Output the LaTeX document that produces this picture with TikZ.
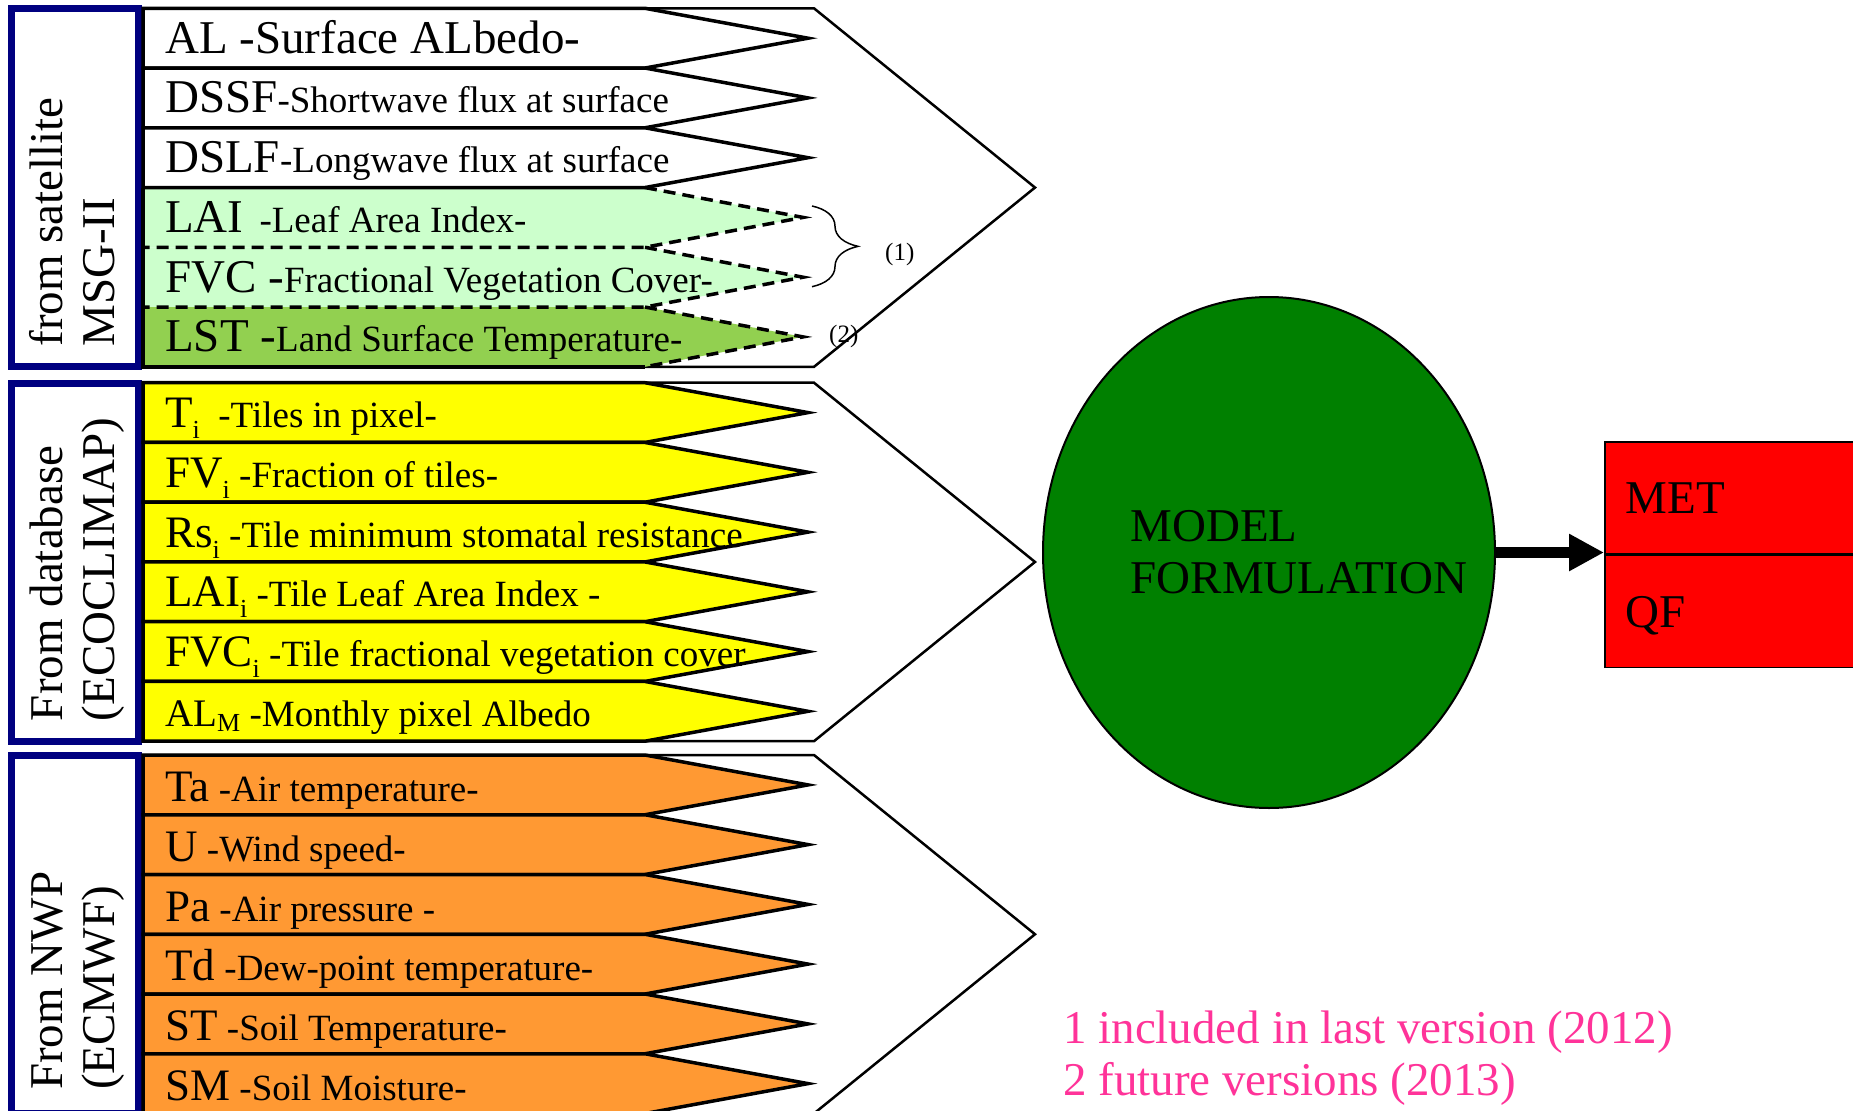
\documentclass[tikz,border=0pt]{standalone}
\usepackage{fontspec}
\setmainfont{Liberation Serif}
\usepackage{xcolor}
\usepackage{tikz}
\usetikzlibrary{arrows.meta, decorations.pathreplacing, shapes.geometric, positioning}

\definecolor{navyframe}{RGB}{0,0,128}
\definecolor{vegpale}{RGB}{204,255,204}
\definecolor{lstgreen}{RGB}{146,208,80}
\definecolor{dbyellow}{RGB}{255,255,0}
\definecolor{nwporange}{RGB}{255,153,51}
\definecolor{modelgreen}{RGB}{0,128,0}
\definecolor{notepink}{RGB}{255,51,153}

\newcommand{\bigfnt}{\fontsize{47}{52}\selectfont}
\newcommand{\midfnt}{\fontsize{45}{50}\selectfont}
\newcommand{\smlfnt}{\fontsize{37}{42}\selectfont}
\newcommand{\lowsub}[2][11pt]{\raisebox{-#1}{\fontsize{26}{28}\selectfont #2}}

\begin{document}
\begin{tikzpicture}[
    x=1pt, y=-1pt,
    every node/.style={inner sep=0pt},
    srcbox/.style  ={draw=navyframe, line width=7pt, fill=white},
    srclbl/.style  ={rotate=90, anchor=base west,
                     font=\fontsize{47}{52}\selectfont},
    chevron/.style ={draw=black, line width=2.5pt, fill=white},
    arrowrow/.style={draw=black, line width=3.5pt},
    dashedge/.style={draw=black, line width=3.5pt,
                     dash pattern=on 12pt off 7pt},
    lbl/.style     ={anchor=base west},
    brace/.style   ={decorate, decoration={brace, amplitude=46pt},
                     line width=1.5pt},
    tag/.style     ={anchor=base west, font=\fontsize{25}{28}\selectfont},
    model/.style   ={ellipse, draw=black, line width=2pt, fill=modelgreen,
                     minimum width=452pt, minimum height=511pt},
    modellbl/.style={align=left, font=\fontsize{47}{52}\selectfont},
    outbox/.style  ={rectangle, draw=black, line width=1.5pt, fill=red,
                     minimum width=270pt, minimum height=112pt,
                     text width=228pt, inner xsep=21pt, align=left,
                     text height=32pt, text depth=0pt,
                     font=\fontsize{47}{52}\selectfont},
    fatarrow/.style={line width=10.5pt, -{Triangle[length=35pt,width=35pt]}},
    note/.style    ={anchor=base west, text=notepink,
                     font=\fontsize{47}{52}\selectfont},
  ]

  \path[use as bounding box, fill=white] (0,0) rectangle (1853,1111);

  %% --- common geometry --------------------------------------------------
  \def\xL{143}    % left edge of the input arrows
  \def\xB{645}    % end of the arrow body
  \def\xT{808}    % arrow tip (miter join reaches a bit further)
  \def\xD{803}    % tip of the dashed arrows
  \def\xC{1035}   % tip of the group chevron

  %% =====================================================================
  %% Group 1: from satellite
  %% =====================================================================
  \begin{scope}[yshift=-8.3pt]
    % source box with rotated caption
    \draw[srcbox] (11.7,0.5) rectangle (138.3,358.5);
    \node[srclbl] (sat1) at (62,338.5) {from satellite};
    \node[srclbl] (sat2) at (114,338.5) {MSG-II};
    % chevron behind the arrows
    \draw[chevron] (\xL,0) -- (814,0) -- (\xC,179.25) -- (814,358.5)
          -- (\xL,358.5) -- cycle;
    % fills of the vegetation / LST arrows
    \fill[vegpale] (\xL,179.25) -- (\xB,179.25) -- (\xD,209.1) -- (\xB,239)
          -- (\xL,239) -- cycle;
    \fill[vegpale] (\xL,239) -- (\xB,239) -- (\xD,268.9) -- (\xB,298.75)
          -- (\xL,298.75) -- cycle;
    \fill[lstgreen] (\xL,298.75) -- (\xB,298.75) -- (\xD,328.6) -- (\xB,358.5)
          -- (\xL,358.5) -- cycle;
    % solid arrows
    \draw[arrowrow, fill=white] (\xL,0) -- (\xB,0) -- (\xT,29.9) -- (\xB,59.75)
          -- (\xL,59.75) -- cycle;
    \draw[arrowrow, fill=white] (\xL,59.75) -- (\xB,59.75) -- (\xT,89.6)
          -- (\xB,119.5) -- (\xL,119.5) -- cycle;
    \draw[arrowrow, fill=white] (\xL,119.5) -- (\xB,119.5) -- (\xT,149.4)
          -- (\xB,179.25) -- (\xL,179.25) -- cycle;
    % dashed outlines (not yet / newly included products)
    \draw[dashedge] (\xB,179.25) -- (\xD,209.1) -- (\xB,239) -- (\xL,239);
    \draw[dashedge] (\xB,239) -- (\xD,268.9) -- (\xB,298.75) -- (\xL,298.75);
    \draw[dashedge] (\xB,298.75) -- (\xD,328.6) -- (\xB,358.5);
    \draw[arrowrow] (\xL,179.25) -- (\xL,358.5) -- (\xB,358.5);
    % labels
    \node[lbl] (al)   at (165,44.9)  {\bigfnt AL -Surface ALbedo-};
    \node[lbl] (dssf) at (165,104.6) {\bigfnt DSSF\smlfnt -Shortwave flux at surface};
    \node[lbl] (dslf) at (165,164.4) {\bigfnt DSLF\smlfnt -Longwave flux at surface};
    \node[lbl] (lai)  at (165,224.1) {\bigfnt LAI\hspace{16pt}\smlfnt -Leaf Area Index-};
    \node[lbl] (fvc)  at (165,283.9) {\bigfnt FVC -\smlfnt Fractional Vegetation Cover-};
    \node[lbl] (lst)  at (165,343.6) {\bigfnt LST -\smlfnt Land Surface Temperature-};
    % brace and version tags
    \draw[brace] (812,197.7) -- (812,278.4);
    \node[tag] (tag1) at (885,251.7) {(1)};
    \node[tag] (tag2) at (829,333.7) {(2)};
  \end{scope}

  %% =====================================================================
  %% Group 2: from database
  %% =====================================================================
  \begin{scope}[yshift=-382.7pt]
    \draw[srcbox] (11.7,0.5) rectangle (138.3,358.5);
    \node[srclbl] (db1) at (62,338.5) {From database};
    \node[srclbl] (db2) at (114,338.5) {(ECOCLIMAP)};
    \draw[chevron] (\xL,0) -- (814,0) -- (\xC,179.25) -- (814,358.5)
          -- (\xL,358.5) -- cycle;
    \draw[arrowrow, fill=dbyellow] (\xL,0) -- (\xB,0) -- (\xT,29.9) -- (\xB,59.75)
          -- (\xL,59.75) -- cycle;
    \draw[arrowrow, fill=dbyellow] (\xL,59.75) -- (\xB,59.75) -- (\xT,89.6)
          -- (\xB,119.5) -- (\xL,119.5) -- cycle;
    \draw[arrowrow, fill=dbyellow] (\xL,119.5) -- (\xB,119.5) -- (\xT,149.4)
          -- (\xB,179.25) -- (\xL,179.25) -- cycle;
    \draw[arrowrow, fill=dbyellow] (\xL,179.25) -- (\xB,179.25) -- (\xT,209.1)
          -- (\xB,239) -- (\xL,239) -- cycle;
    \draw[arrowrow, fill=dbyellow] (\xL,239) -- (\xB,239) -- (\xT,268.9)
          -- (\xB,298.75) -- (\xL,298.75) -- cycle;
    \draw[arrowrow, fill=dbyellow] (\xL,298.75) -- (\xB,298.75) -- (\xT,328.6)
          -- (\xB,358.5) -- (\xL,358.5) -- cycle;
    \node[lbl] (ti)   at (165,44.9)  {\midfnt T\lowsub{i}\smlfnt\ \ -Tiles in pixel-};
    \node[lbl] (fvi)  at (165,104.6) {\midfnt FV\lowsub{i}\smlfnt\ -Fraction of tiles-};
    \node[lbl] (rsi)  at (165,164.4) {\midfnt Rs\lowsub{i}\smlfnt\ -Tile minimum stomatal resistance};
    \node[lbl] (laii) at (165,224.1) {\midfnt LAI\lowsub{i}\smlfnt\ -Tile Leaf Area Index -};
    \node[lbl] (fvci) at (165,283.9) {\midfnt FVC\lowsub{i}\smlfnt\ -Tile fractional vegetation cover};
    \node[lbl] (alm)  at (165,343.6) {\fontsize{39}{44}\selectfont AL\lowsub[5pt]{M}\smlfnt\ -Monthly pixel Albedo};
  \end{scope}

  %% =====================================================================
  %% Group 3: from NWP
  %% =====================================================================
  \begin{scope}[yshift=-755pt]
    \draw[srcbox] (11.7,0.5) rectangle (138.3,358.5);
    \node[srclbl] (nwp1) at (62,335) {From NWP};
    \node[srclbl] (nwp2) at (114,335) {(ECMWF)};
    \draw[chevron] (\xL,0) -- (814,0) -- (\xC,179.25) -- (814,358.5)
          -- (\xL,358.5) -- cycle;
    \draw[arrowrow, fill=nwporange] (\xL,0) -- (\xB,0) -- (\xT,29.9) -- (\xB,59.75)
          -- (\xL,59.75) -- cycle;
    \draw[arrowrow, fill=nwporange] (\xL,59.75) -- (\xB,59.75) -- (\xT,89.6)
          -- (\xB,119.5) -- (\xL,119.5) -- cycle;
    \draw[arrowrow, fill=nwporange] (\xL,119.5) -- (\xB,119.5) -- (\xT,149.4)
          -- (\xB,179.25) -- (\xL,179.25) -- cycle;
    \draw[arrowrow, fill=nwporange] (\xL,179.25) -- (\xB,179.25) -- (\xT,209.1)
          -- (\xB,239) -- (\xL,239) -- cycle;
    \draw[arrowrow, fill=nwporange] (\xL,239) -- (\xB,239) -- (\xT,268.9)
          -- (\xB,298.75) -- (\xL,298.75) -- cycle;
    \draw[arrowrow, fill=nwporange] (\xL,298.75) -- (\xB,298.75) -- (\xT,328.6)
          -- (\xB,358.5) -- (\xL,358.5) -- cycle;
    \node[lbl] (ta) at (165,46.5)  {\midfnt Ta\smlfnt\ -Air temperature-};
    \node[lbl] (u)  at (165,106.2) {\midfnt U\smlfnt\ -Wind speed-};
    \node[lbl] (pa) at (165,166)   {\midfnt Pa\smlfnt\ -Air pressure -};
    \node[lbl] (td) at (165,225.7) {\midfnt Td\smlfnt\ -Dew-point temperature-};
    \node[lbl] (st) at (165,285.5) {\midfnt ST\smlfnt\ -Soil Temperature-};
    \node[lbl] (sm) at (165,345.2) {\midfnt SM\smlfnt\ -Soil Moisture-};
  \end{scope}

  %% =====================================================================
  %% Model and outputs
  %% =====================================================================
  \node[model] (model) at (1269,552.5) {};
  \node[modellbl] (modeltxt) at ([xshift=30pt]model.center) {MODEL\\FORMULATION};
  \node[outbox, anchor=north west] (met) at (1604,441) {MET};
  \node[outbox, below=0pt of met] (qf) {QF};
  \draw[fatarrow] (model.east) -- (model.east -| met.south west);

  % version notes
  \node[note] (foot1) at (1063,1043) {1 included in last version (2012)};
  \node[note] (foot2) at (1063,1095) {2 future versions (2013)};

\end{tikzpicture}
\end{document}
